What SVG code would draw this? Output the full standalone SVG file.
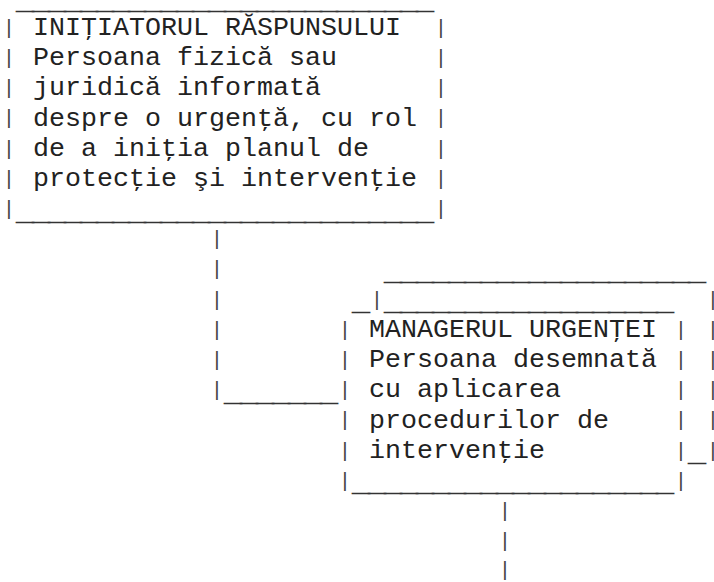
<svg xmlns="http://www.w3.org/2000/svg" width="714" height="582" viewBox="0 0 714 582" xml:space="preserve">
<style>
text { font-family: "Liberation Mono", "Courier New", monospace; font-size: 26.667px; fill: #222222; white-space: pre; }
text.bar { font-size: 20.5px; text-anchor: middle; fill: #444444; }
text.us { font-size: 9px; fill: #333333; stroke: #333333; stroke-width: 0.9px; }
</style>
<rect x="0" y="0" width="714" height="582" fill="#ffffff"/>
<g id="initiator">
<text class="us" x="17" y="10.7" textLength="416" lengthAdjust="spacingAndGlyphs">__________________________</text>
<text class="bar" x="9" y="33.8">|</text><text class="bar" x="441" y="33.8">|</text>
<text class="bar" x="9" y="64">|</text><text class="bar" x="441" y="64">|</text>
<text class="bar" x="9" y="94.2">|</text><text class="bar" x="441" y="94.2">|</text>
<text class="bar" x="9" y="124.4">|</text><text class="bar" x="441" y="124.4">|</text>
<text class="bar" x="9" y="154.6">|</text><text class="bar" x="441" y="154.6">|</text>
<text class="bar" x="9" y="184.8">|</text><text class="bar" x="441" y="184.8">|</text>
<text class="bar" x="9" y="215">|</text><text class="bar" x="441" y="215">|</text>
<text x="33" y="35">INIŢIATORUL RĂSPUNSULUI</text>
<text x="33" y="65.2">Persoana fizică sau</text>
<text x="33" y="95.4">juridică informată</text>
<text x="33" y="125.6">despre o urgenţă, cu rol</text>
<text x="33" y="155.8">de a iniţia planul de</text>
<text x="33" y="186">protecţie şi intervenţie</text>
<text class="us" x="17" y="221.5" textLength="416" lengthAdjust="spacingAndGlyphs">__________________________</text>
</g>
<g id="manager">
<text class="us" x="385" y="281.9" textLength="320" lengthAdjust="spacingAndGlyphs">____________________</text>
<text class="us" x="353" y="312.1" textLength="16" lengthAdjust="spacingAndGlyphs">_</text>
<text class="bar" x="377" y="305.6">|</text>
<text class="us" x="385" y="312.1" textLength="288" lengthAdjust="spacingAndGlyphs">__________________</text>
<text class="bar" x="713" y="305.6">|</text>
<text class="bar" x="345" y="335.8">|</text><text class="bar" x="681" y="335.8">|</text><text class="bar" x="713" y="335.8">|</text>
<text class="bar" x="345" y="366">|</text><text class="bar" x="681" y="366">|</text><text class="bar" x="713" y="366">|</text>
<text class="bar" x="345" y="396.2">|</text><text class="bar" x="681" y="396.2">|</text><text class="bar" x="713" y="396.2">|</text>
<text class="bar" x="345" y="426.4">|</text><text class="bar" x="681" y="426.4">|</text><text class="bar" x="713" y="426.4">|</text>
<text class="bar" x="345" y="456.6">|</text><text class="bar" x="681" y="456.6">|</text><text class="bar" x="713" y="456.6">|</text>
<text class="us" x="689" y="463.1" textLength="16" lengthAdjust="spacingAndGlyphs">_</text>
<text class="bar" x="345" y="486.8">|</text><text class="bar" x="681" y="486.8">|</text>
<text x="369" y="337">MANAGERUL URGENŢEI</text>
<text x="369" y="367.2">Persoana desemnată</text>
<text x="369" y="397.4">cu aplicarea</text>
<text x="369" y="427.6">procedurilor de</text>
<text x="369" y="457.8">intervenţie</text>
<text class="us" x="353" y="493.3" textLength="320" lengthAdjust="spacingAndGlyphs">____________________</text>
</g>
<g id="connectors">
<text class="bar" x="217" y="245.2">|</text>
<text class="bar" x="217" y="275.4">|</text>
<text class="bar" x="217" y="305.6">|</text>
<text class="bar" x="217" y="335.8">|</text>
<text class="bar" x="217" y="366">|</text>
<text class="bar" x="217" y="396.2">|</text>
<text class="us" x="225" y="402.7" textLength="112" lengthAdjust="spacingAndGlyphs">_______</text>
<text class="bar" x="505" y="517">|</text>
<text class="bar" x="505" y="547.2">|</text>
<text class="bar" x="505" y="576">|</text>
</g>
</svg>
